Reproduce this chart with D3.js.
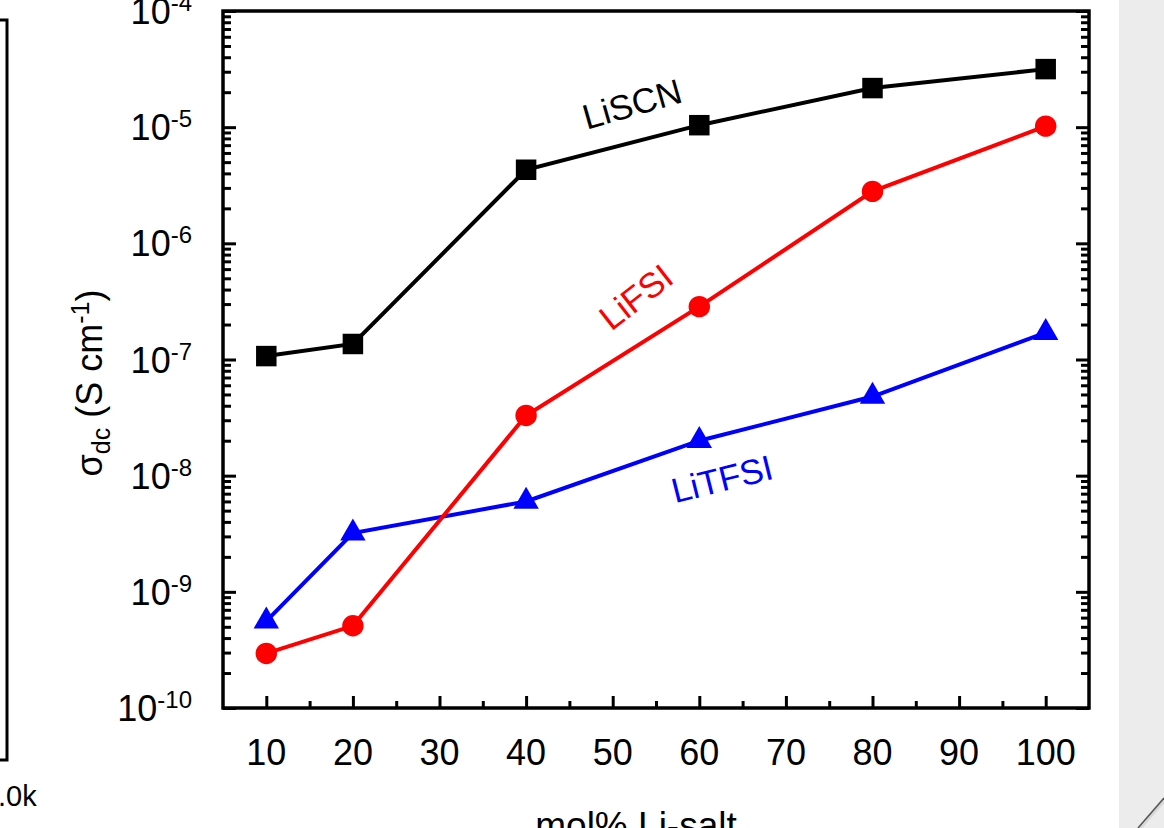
<!DOCTYPE html>
<html>
<head>
<meta charset="utf-8">
<script src="https://cdn.jsdelivr.net/npm/d3@7"></script>
<style>
  body { margin: 0; background: #fff; }
  svg { display: block; font-family: "Liberation Sans", Arial, sans-serif; }
</style>
</head>
<body>
<div id="chart"></div>
<script>
// datos
const molPercent = [10, 20, 40, 60, 80, 100];
const liSCN  = [1.07e-7, 1.36e-7, 4.3e-6, 1.04e-5, 2.17e-5, 3.16e-5];
const liFSI  = [2.95e-10, 5.1e-10, 3.3e-8, 2.85e-7, 2.8e-6, 1.02e-5];
const liTFSI = [5.6e-10, 3.2e-9, 6.0e-9, 2.0e-8, 4.8e-8, 1.7e-7];
const xTicks = [10, 20, 30, 40, 50, 60, 70, 80, 90, 100];
const yExponents = [-4, -5, -6, -7, -8, -9, -10];

const width = 1164, height = 828;
const plotLeft = 223, plotRight = 1089, plotTop = 11, plotBottom = 708;

const svg = d3.select('#chart').append('svg')
  .attr('width', width).attr('height', height);

const x = d3.scaleLinear().domain([5, 105]).range([plotLeft, plotRight]);
const y = d3.scaleLog().domain([1e-10, 1e-4]).range([plotBottom, plotTop]);

// panel gris a la derecha
svg.append('rect').attr('x', 1119).attr('y', 0).attr('width', 45).attr('height', height).attr('fill', '#ececec');
svg.append('line').attr('x1', 1138).attr('y1', 830).attr('x2', 1166).attr('y2', 798)
  .attr('stroke', '#d8d8d8').attr('stroke-width', 4);
svg.append('line').attr('x1', 1138).attr('y1', 828).attr('x2', 1164).attr('y2', 798)
  .attr('stroke', '#555').attr('stroke-width', 1.5);

// restos del panel izquierdo
svg.append('path').attr('d', 'M0,20H7V760H0').attr('fill', 'none').attr('stroke', '#000').attr('stroke-width', 3);
svg.append('text').attr('x', -2).attr('y', 806).attr('font-size', 29).text('.0k');

// ticks del eje y (hacia dentro)
const yMinor = [];
for (let e = -10; e < -4; e++) for (let m = 2; m <= 9; m++) yMinor.push(m * Math.pow(10, e));
const yMajor = yExponents.map(e => Math.pow(10, e));

const yAxisL = d3.axisRight(y).tickValues(yMajor).tickSize(13).tickFormat('');
const yAxisLm = d3.axisRight(y).tickValues(yMinor).tickSize(8).tickFormat('');
const yAxisR = d3.axisLeft(y).tickValues(yMajor).tickSize(13).tickFormat('');
const yAxisRm = d3.axisLeft(y).tickValues(yMinor).tickSize(8).tickFormat('');
[[yAxisL, plotLeft], [yAxisLm, plotLeft], [yAxisR, plotRight], [yAxisRm, plotRight]].forEach(([ax, px]) => {
  const g = svg.append('g').attr('transform', `translate(${px},0)`).call(ax);
  g.select('.domain').remove();
  g.selectAll('line').attr('stroke', '#000').attr('stroke-width', 3);
});

// ticks del eje x
const xMinor = xTicks.map(d => d + 5).filter(d => d < 105);
const xAxis = d3.axisTop(x).tickValues(xTicks).tickSize(12).tickFormat('');
const xAxisM = d3.axisTop(x).tickValues(xMinor).tickSize(7).tickFormat('');
[xAxis, xAxisM].forEach(ax => {
  const g = svg.append('g').attr('transform', `translate(0,${plotBottom})`).call(ax);
  g.select('.domain').remove();
  g.selectAll('line').attr('stroke', '#000').attr('stroke-width', 3);
});

// marco
svg.append('rect').attr('x', plotLeft).attr('y', plotTop)
  .attr('width', plotRight - plotLeft).attr('height', plotBottom - plotTop)
  .attr('fill', 'none').attr('stroke', '#000').attr('stroke-width', 3.5);

// etiquetas de ticks
svg.selectAll('.xlab').data(xTicks).enter().append('text')
  .attr('x', d => x(d)).attr('y', 765).attr('text-anchor', 'middle')
  .attr('font-size', 36).text(d => d);

const ylab = svg.selectAll('.ylab').data(yExponents).enter().append('text')
  .attr('x', 192).attr('y', d => y(Math.pow(10, d)) + 13).attr('text-anchor', 'end');
ylab.append('tspan').attr('font-size', 36).text('10');
ylab.append('tspan').attr('font-size', 24).attr('dy', -13).text(d => d);

// título eje y
const yt = svg.append('text').attr('transform', 'translate(102,383) rotate(-90)')
  .attr('text-anchor', 'middle').attr('font-size', 36);
yt.append('tspan').text('σ');
yt.append('tspan').attr('font-size', 25).attr('dy', 8).text('dc');
yt.append('tspan').attr('dy', -8).text(' (S cm');
yt.append('tspan').attr('font-size', 25).attr('dy', -13).text('-1');
yt.append('tspan').attr('dy', 13).text(')');

// título eje x
svg.append('text').attr('x', 636).attr('y', 838).attr('text-anchor', 'middle')
  .attr('font-size', 37).text('mol% Li-salt');

// series
const series = [
  { name: 'LiSCN', values: liSCN, color: '#000', shape: d3.symbolSquare, size: 420 },
  { name: 'LiFSI', values: liFSI, color: '#ff0000', shape: d3.symbolCircle, size: 360 },
  { name: 'LiTFSI', values: liTFSI, color: '#0000ff', shape: d3.symbolTriangle, size: 280 }
];
const line = d3.line().x(d => x(d[0])).y(d => y(d[1]));

series.slice().reverse().forEach(s => {
  const pts = molPercent.map((m, i) => [m, s.values[i]]);
  svg.append('path').datum(pts).attr('d', line)
    .attr('fill', 'none').attr('stroke', s.color).attr('stroke-width', 4);
  svg.selectAll(null).data(pts).enter().append('path')
    .attr('d', d3.symbol().type(s.shape).size(s.size))
    .attr('transform', d => `translate(${x(d[0])},${y(d[1])})`)
    .attr('fill', s.color);
});

// etiquetas de series
const labels = [
  { text: 'LiSCN', color: '#000', cx: 632, cy: 104, angle: -16 },
  { text: 'LiFSI', color: '#ff0000', cx: 636, cy: 297, angle: -38 },
  { text: 'LiTFSI', color: '#0000ff', cx: 722, cy: 479, angle: -14 }
];
svg.selectAll('.slab').data(labels).enter().append('text')
  .attr('transform', d => `translate(${d.cx},${d.cy}) rotate(${d.angle})`)
  .attr('text-anchor', 'middle').attr('dy', '0.35em')
  .attr('font-size', 35).attr('fill', d => d.color).text(d => d.text);
</script>
</body>
</html>
